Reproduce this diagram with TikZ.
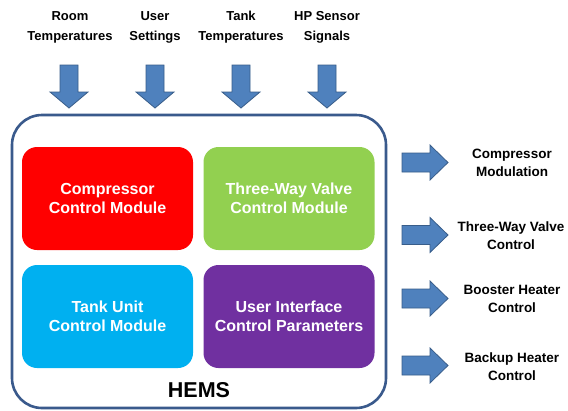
\documentclass[tikz,border=0pt]{standalone}
\usepackage{fontspec}
\setmainfont{Liberation Sans}
\definecolor{hemsred}{HTML}{FF0000}
\definecolor{hemsgreen}{HTML}{92D050}
\definecolor{hemsblue}{HTML}{00B0F0}
\definecolor{hemspurple}{HTML}{7030A0}
\definecolor{arrowfill}{HTML}{4F81BD}
\definecolor{arrowline}{HTML}{385D8A}
\definecolor{frameline}{HTML}{3A5A8C}
\begin{document}
\begin{tikzpicture}[x=1pt,y=-1pt,
  blockarrow/.style={fill=arrowfill,draw=arrowline,line width=0.8pt,line join=miter},
  module/.style={rectangle,rounded corners=15pt,minimum width=171pt,minimum height=103pt,
    inner sep=0pt,align=center,text=white,font=\bfseries\fontsize{16}{19}\selectfont},
  inlabel/.style={align=center,inner sep=0pt,font=\bfseries\fontsize{13}{20}\selectfont},
  outlabel/.style={align=center,inner sep=0pt,font=\bfseries\fontsize{13.5}{18}\selectfont},
  dnarrow/.pic={\draw[blockarrow] (-9,0) -- (9,0) -- (9,27) -- (19,27) -- (0,43) -- (-19,27) -- (-9,27) -- cycle;},
  rtarrow/.pic={\draw[blockarrow] (0,-9.5) -- (28,-9.5) -- (28,-17.5) -- (46,0) -- (28,17.5) -- (28,9.5) -- (0,9.5) -- cycle;}
]
\useasboundingbox (0,0) rectangle (568,410);
\fill[white] (0,0) rectangle (568,410);

% HEMS frame
\draw[frameline,line width=2.6pt,rounded corners=30pt,fill=white] (12,115) rectangle (386,408);

% control modules
\node[module,fill=hemsred]    (comp)  at (107.5,198.5) {Compressor\\Control Module};
\node[module,fill=hemsgreen]  (valve) at (289,198.5)   {Three-Way Valve\\Control Module};
\node[module,fill=hemsblue]   (tank)  at (107.5,316.5) {Tank Unit\\Control Module};
\node[module,fill=hemspurple] (ui)    at (289,316.5)   {User Interface\\Control Parameters};
\node[inner sep=0pt,font=\bfseries\fontsize{21.5}{24}\selectfont] (hems) at (199,390) {HEMS};

% inputs
\node[inlabel] (in1) at (70,27)  {Room\\Temperatures};
\node[inlabel] (in2) at (155,27) {User\\Settings};
\node[inlabel] (in3) at (241,27) {Tank\\Temperatures};
\node[inlabel] (in4) at (327,27) {HP Sensor\\Signals};
\pic at (69,65)  {dnarrow};
\pic at (155,65) {dnarrow};
\pic at (241,65) {dnarrow};
\pic at (327,65) {dnarrow};

% outputs
\pic at (402,162.5) {rtarrow};
\pic at (402,235)   {rtarrow};
\pic at (402,298.5) {rtarrow};
\pic at (402,365.5) {rtarrow};
\node[outlabel] (out1) at (512,162.5) {Compressor\\Modulation};
\node[outlabel] (out2) at (511,236)   {Three-Way Valve\\Control};
\node[outlabel] (out3) at (512,298.5) {Booster Heater\\Control};
\node[outlabel] (out4) at (512,367)   {Backup Heater\\Control};
\end{tikzpicture}
\end{document}
